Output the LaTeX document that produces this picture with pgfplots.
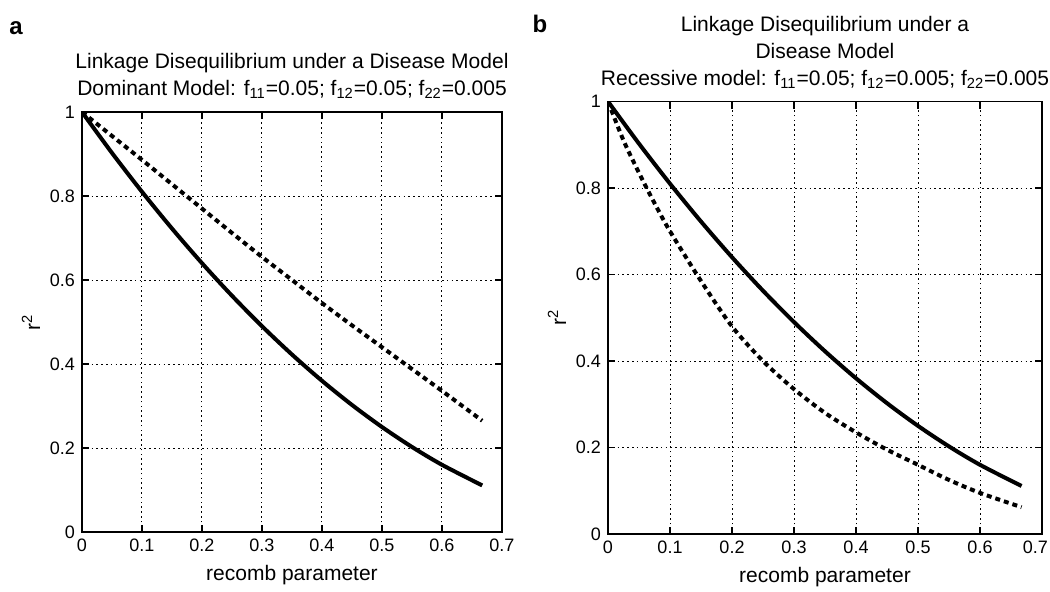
\documentclass[border=0pt]{standalone}
\usepackage{pgfplots}
\pgfplotsset{compat=1.18}
\usepackage{fontspec}
\setmainfont{Liberation Sans}

\pgfplotsset{
  ldstyle/.style={
    scale only axis,
    xmin=0, xmax=0.7, ymin=0, ymax=1,
    xtick={0,0.1,0.2,0.3,0.4,0.5,0.6,0.7},
    ytick={0,0.2,0.4,0.6,0.8,1},
    grid=major,
    major grid style={black, line width=0.5pt, dash pattern=on 0.8pt off 1.6pt},
    tick align=inside,
    xtick pos=both, ytick pos=both,
    major tick length=3.5pt,
    tick style={black, line width=0.6pt},
    axis line style={black, line width=0.6pt},
    ticklabel style={font=\fontsize{9}{10}\selectfont},
    /pgf/number format/assume math mode=true,
    label style={font=\fontsize{10.5}{12}\selectfont},
    ylabel style={yshift=-2pt},
    xlabel={recomb parameter},
    ylabel={r\textsuperscript{2}},
    title style={font=\fontsize{10.5}{13.5}\selectfont, align=center, yshift=-3pt},
    solidcurve/.style={black, line width=2pt, smooth},
    dashcurve/.style={black, line width=2pt, smooth, dash pattern=on 2.5pt off 2pt},
  }
}

\pgfplotstableread{
x y
0 1
0.05 0.9025
0.1 0.81
0.15 0.7225
0.2 0.64
0.25 0.5625
0.3 0.49
0.35 0.4225
0.4 0.36
0.45 0.3025
0.5 0.25
0.55 0.2025
0.6 0.16
0.667 0.111
}\solidtab

\pgfplotstableread{
x y
0 1
0.05 0.943
0.1 0.886
0.15 0.828
0.2 0.77
0.25 0.712
0.3 0.655
0.35 0.6
0.4 0.545
0.45 0.492
0.5 0.44
0.55 0.388
0.6 0.336
0.667 0.265
}\domtab

\pgfplotstableread{
x y
0 1
0.025 0.91
0.05 0.835
0.075 0.765
0.1 0.70
0.15 0.585
0.2 0.48
0.25 0.40
0.3 0.335
0.35 0.28
0.4 0.235
0.45 0.195
0.5 0.16
0.55 0.125
0.6 0.095
0.667 0.062
}\rectab

\begin{document}
\begin{tikzpicture}
\begin{axis}[ldstyle,
  width=210pt, height=210pt,
  at={(41pt,29.5pt)}, anchor=south west,
  title={Linkage Disequilibrium under a Disease Model\\Dominant Model: f\textsubscript{11}=0.05; f\textsubscript{12}=0.05; f\textsubscript{22}=0.005}]
\addplot[dashcurve] table[x=x,y=y] {\domtab};
\addplot[solidcurve] table[x=x,y=y] {\solidtab};
\end{axis}

\begin{axis}[ldstyle,
  width=217pt, height=216.25pt,
  at={(304pt,28.5pt)}, anchor=south west,
  xticklabels={0,0.1,0.2,0.3,0.4,0.5,0.6,\makebox[0pt][r]{0.7\hspace*{-3pt}}},
  title={Linkage Disequilibrium under a\\Disease Model\\Recessive model: f\textsubscript{11}=0.05; f\textsubscript{12}=0.005; f\textsubscript{22}=0.005}]
\addplot[dashcurve] table[x=x,y=y] {\rectab};
\addplot[solidcurve] table[x=x,y=y] {\solidtab};
\end{axis}

\node[font=\bfseries\fontsize{12}{12}\selectfont] at (8pt,281.5pt) {a};
\node[font=\bfseries\fontsize{12}{12}\selectfont] at (270pt,283.5pt) {b};

\pgfresetboundingbox
\useasboundingbox (0,0) rectangle (525pt,295.5pt);
\end{tikzpicture}
\end{document}
